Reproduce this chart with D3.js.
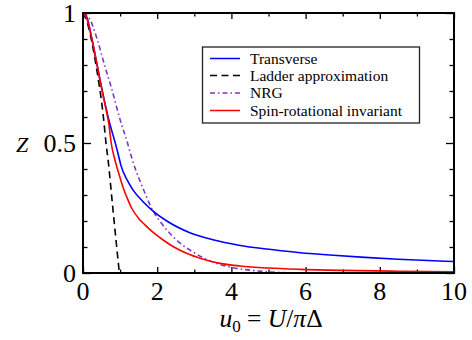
<html>
<head>
  <script src="https://d3js.org/d3.v7.min.js"></script>
  <style>
    body { margin: 0; background: #fff; }
    text { font-family: "Liberation Serif", "Times New Roman", "DejaVu Serif", serif; fill: #000; }
    .axis path { display: none; }
    .axis line { stroke: #000; stroke-width: 1.3; }
  </style>
</head>
<body>
<script>
// values: [u0, Z]
var transverse = [[0,1],[0.1,0.985],[0.24,0.9],[0.38,0.8],[0.5,0.715],[0.62,0.635],[0.73,0.57],[0.8,0.535],[0.87,0.5],[0.96,0.45],[1.02,0.415],[1.2,0.355],[1.36,0.317],[1.6,0.277],[1.85,0.243],[2.26,0.2],[2.88,0.155],[3.5,0.128],[4.2,0.107],[4.95,0.092],[5.8,0.079],[6.75,0.068],[7.6,0.06],[8.5,0.053],[9.3,0.048],[10,0.044]];
var ladder = [[0,1],[0.1,0.97],[0.2,0.915],[0.35,0.8],[0.44,0.72],[0.55,0.6],[0.62,0.5],[0.68,0.43],[0.79,0.27],[0.88,0.14],[0.98,0]];
var nrg = [[0,1],[0.17,0.98],[0.38,0.9],[0.58,0.8],[0.77,0.71],[1.0,0.59],[1.2,0.5],[1.3,0.45],[1.4,0.405],[1.6,0.332],[1.85,0.249],[2.12,0.19],[2.52,0.127],[3.02,0.076],[3.6,0.037],[4.05,0.02],[4.5,0.011],[4.95,0.005],[5.5,0.001],[6,0]];
var spinRot = [[0,1],[0.1,0.98],[0.24,0.9],[0.38,0.8],[0.5,0.71],[0.62,0.63],[0.7,0.57],[0.76,0.5],[0.87,0.43],[0.95,0.39],[1.09,0.325],[1.2,0.285],[1.31,0.25],[1.5,0.21],[1.67,0.185],[1.9,0.155],[2.16,0.127],[2.45,0.1],[2.79,0.076],[3.2,0.055],[3.69,0.037],[4.23,0.027],[5,0.019],[5.85,0.014],[7,0.01],[8.5,0.007],[10,0.005]];

var xTicks = [0, 2, 4, 6, 8, 10];
var xMinor = [1, 3, 5, 7, 9];
var yTicks = [0, 0.5, 1];
var yTickLabels = ["0", "0.5", "1"];
var yMinor = [0.1, 0.2, 0.3, 0.4, 0.6, 0.7, 0.8, 0.9];

var legendNames = ["Transverse", "Ladder approximation", "NRG", "Spin-rotational invariant"];
var colors = ["#0000ff", "#000000", "#7f35c8", "#ff0000"];
var dashes = [null, "7,4.5", "5,3,1.5,3", null];
var seriesList = [transverse, ladder, nrg, spinRot];

var width = 472, height = 340;
var plotL = 83, plotR = 454, plotT = 13, plotB = 273;

var svg = d3.select("body").append("svg")
  .attr("width", width)
  .attr("height", height);

var x = d3.scaleLinear().domain([0, 10]).range([plotL, plotR]);
var y = d3.scaleLinear().domain([0, 1]).range([plotB, plotT]);

// ticks, all pointing inward
function addTicks(axis, vals, size, tx, ty) {
  svg.append("g").attr("class", "axis")
    .attr("transform", "translate(" + tx + "," + ty + ")")
    .call(axis.tickValues(vals).tickSize(size).tickFormat(""));
}
addTicks(d3.axisBottom(x), xTicks, -6, 0, plotB);
addTicks(d3.axisBottom(x), xMinor, -3.5, 0, plotB);
addTicks(d3.axisTop(x), xTicks, -6, 0, plotT);
addTicks(d3.axisTop(x), xMinor, -3.5, 0, plotT);
addTicks(d3.axisLeft(y), yTicks, -8, plotL, 0);
addTicks(d3.axisLeft(y), yMinor, -4.5, plotL, 0);
addTicks(d3.axisRight(y), yTicks, -8, plotR, 0);
addTicks(d3.axisRight(y), yMinor, -4.5, plotR, 0);

// curves
svg.append("clipPath").attr("id", "plotclip")
  .append("rect").attr("x", plotL).attr("y", plotT - 2)
  .attr("width", plotR - plotL).attr("height", plotB - plotT + 2);

var line = d3.line()
  .x(function(d) { return x(d[0]); })
  .y(function(d) { return y(d[1]); })
  .curve(d3.curveMonotoneX);

var curves = svg.append("g").attr("clip-path", "url(#plotclip)");
[2, 0, 1, 3].forEach(function(i) {
  curves.append("path")
    .datum(seriesList[i])
    .attr("d", line)
    .attr("fill", "none")
    .attr("stroke", colors[i])
    .attr("stroke-width", 1.6)
    .attr("stroke-dasharray", dashes[i]);
});

// frame
svg.append("rect")
  .attr("x", plotL).attr("y", plotT)
  .attr("width", plotR - plotL).attr("height", plotB - plotT)
  .attr("fill", "none").attr("stroke", "#000").attr("stroke-width", 2);

// tick labels
svg.selectAll(".xlab").data(xTicks).enter().append("text")
  .attr("x", function(d) { return x(d); })
  .attr("y", 300)
  .attr("text-anchor", "middle")
  .style("font-size", "26px")
  .text(function(d) { return d; });

svg.selectAll(".ylab").data(yTicks).enter().append("text")
  .attr("x", 76)
  .attr("y", function(d) { return y(d) + 9; })
  .attr("text-anchor", "end")
  .style("font-size", "26px")
  .text(function(d, i) { return yTickLabels[i]; });

// axis titles
svg.append("text")
  .attr("x", 16).attr("y", 152)
  .style("font-size", "22px").style("font-style", "italic")
  .text("Z");

var xt = svg.append("text")
  .attr("x", 271).attr("y", 327)
  .attr("text-anchor", "middle")
  .style("font-size", "25.5px");
xt.append("tspan").style("font-style", "italic").text("u");
xt.append("tspan").attr("dy", 5).style("font-size", "17px").text("0");
xt.append("tspan").attr("dy", -5).text(" = ");
xt.append("tspan").style("font-style", "italic").text("U");
xt.append("tspan").text("/");
xt.append("tspan").style("font-style", "italic").text("π");
xt.append("tspan").text("Δ");

// legend
var lg = svg.append("g");
lg.append("rect")
  .attr("x", 202.5).attr("y", 47)
  .attr("width", 217).attr("height", 76)
  .attr("fill", "#fff").attr("stroke", "#222").attr("stroke-width", 1.3);
var rowY = [58.5, 75.5, 93, 110.5];
legendNames.forEach(function(name, i) {
  lg.append("line")
    .attr("x1", 210).attr("x2", 240)
    .attr("y1", rowY[i]).attr("y2", rowY[i])
    .attr("stroke", colors[i]).attr("stroke-width", 1.5)
    .attr("stroke-dasharray", dashes[i]);
  lg.append("text")
    .attr("x", 250).attr("y", rowY[i] + 5)
    .style("font-size", "15.5px")
    .text(name);
});
</script>
</body>
</html>
